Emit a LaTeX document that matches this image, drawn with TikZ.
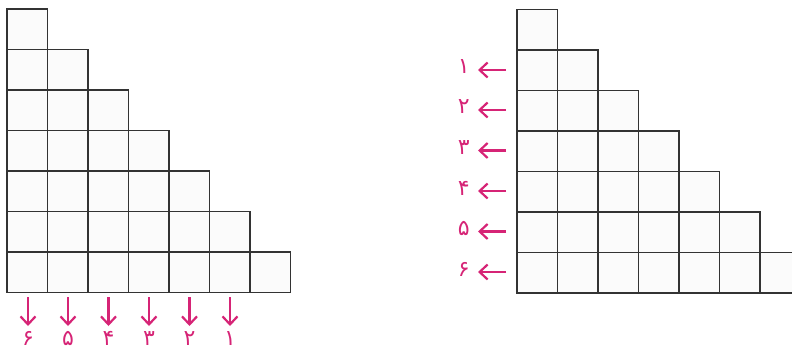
\documentclass[tikz,border=0pt]{standalone}
\usepackage{fontspec}
\newfontfamily\arabicfont[Script=Arabic]{DejaVu Sans}
\TeXXeTstate=1
\usetikzlibrary{arrows.meta,positioning,calc}

\definecolor{gridline}{RGB}{51,51,51}
\definecolor{pointer}{RGB}{214,36,118}

\begin{document}
\begin{tikzpicture}[
    x=1pt, y=-1pt,
    cell/.style={
        draw=gridline,
        fill=gray!3,
        line width=1.6pt
    },
    pointer/.style={
        draw=pointer,
        line width=2.2pt,
        -{Straight Barb[length=8pt,width=15pt,line width=2.2pt]}
    },
    digit/.style={
        text=pointer,
        font=\arabicfont\fontsize{22}{22}\selectfont,
        inner sep=1pt
    }
]

\useasboundingbox (0,0) rectangle (792,350);
\clip (0,0) rectangle (792,350);

% left staircase
\foreach \r in {1,...,7}
    \foreach \c in {1,...,\r}
        \draw[cell] ({7+(\c-1)*40.5},{9+(\r-1)*40.5}) rectangle ++(40.5,40.5);

% right staircase
\foreach \r in {1,...,7}
    \foreach \c in {1,...,\r}
        \draw[cell] ({517+(\c-1)*40.5},{9.5+(\r-1)*40.5}) rectangle ++(40.5,40.5);

% column pointers
\coordinate (cs1) at (28,297);
\coordinate (cs2) at (68,297);
\coordinate (cs3) at (108.5,297);
\coordinate (cs4) at (149,297);
\coordinate (cs5) at (189.5,297);
\coordinate (cs6) at (230,297);
\node[digit, anchor=north] (cl1) at (28,330) {\beginR ۶\endR};
\node[digit, anchor=north] (cl2) at (68,330) {\beginR ۵\endR};
\node[digit, anchor=north] (cl3) at (108.5,330) {\beginR ۴\endR};
\node[digit, anchor=north] (cl4) at (149,330) {\beginR ۳\endR};
\node[digit, anchor=north] (cl5) at (189.5,330) {\beginR ۲\endR};
\node[digit, anchor=north] (cl6) at (230,330) {\beginR ۱\endR};
\draw[pointer, shorten >=4pt] (cs1) -- (cs1 |- cl1.north);
\draw[pointer, shorten >=4pt] (cs2) -- (cs2 |- cl2.north);
\draw[pointer, shorten >=4pt] (cs3) -- (cs3 |- cl3.north);
\draw[pointer, shorten >=4pt] (cs4) -- (cs4 |- cl4.north);
\draw[pointer, shorten >=4pt] (cs5) -- (cs5 |- cl5.north);
\draw[pointer, shorten >=4pt] (cs6) -- (cs6 |- cl6.north);

% row pointers
\coordinate (rs1) at (506,70);
\coordinate (rs2) at (506,110);
\coordinate (rs3) at (506,150.5);
\coordinate (rs4) at (506,191);
\coordinate (rs5) at (506,231.5);
\coordinate (rs6) at (506,272);
\node[digit, anchor=east] (rl1) at (471,67) {\beginR ۱\endR};
\node[digit, anchor=east] (rl2) at (471,107) {\beginR ۲\endR};
\node[digit, anchor=east] (rl3) at (471,147.5) {\beginR ۳\endR};
\node[digit, anchor=east] (rl4) at (471,188) {\beginR ۴\endR};
\node[digit, anchor=east] (rl5) at (471,228.5) {\beginR ۵\endR};
\node[digit, anchor=east] (rl6) at (471,269) {\beginR ۶\endR};
\draw[pointer, shorten >=7pt] (rs1) -- (rs1 -| rl1.east);
\draw[pointer, shorten >=7pt] (rs2) -- (rs2 -| rl2.east);
\draw[pointer, shorten >=7pt] (rs3) -- (rs3 -| rl3.east);
\draw[pointer, shorten >=7pt] (rs4) -- (rs4 -| rl4.east);
\draw[pointer, shorten >=7pt] (rs5) -- (rs5 -| rl5.east);
\draw[pointer, shorten >=7pt] (rs6) -- (rs6 -| rl6.east);

\end{tikzpicture}
\end{document}
